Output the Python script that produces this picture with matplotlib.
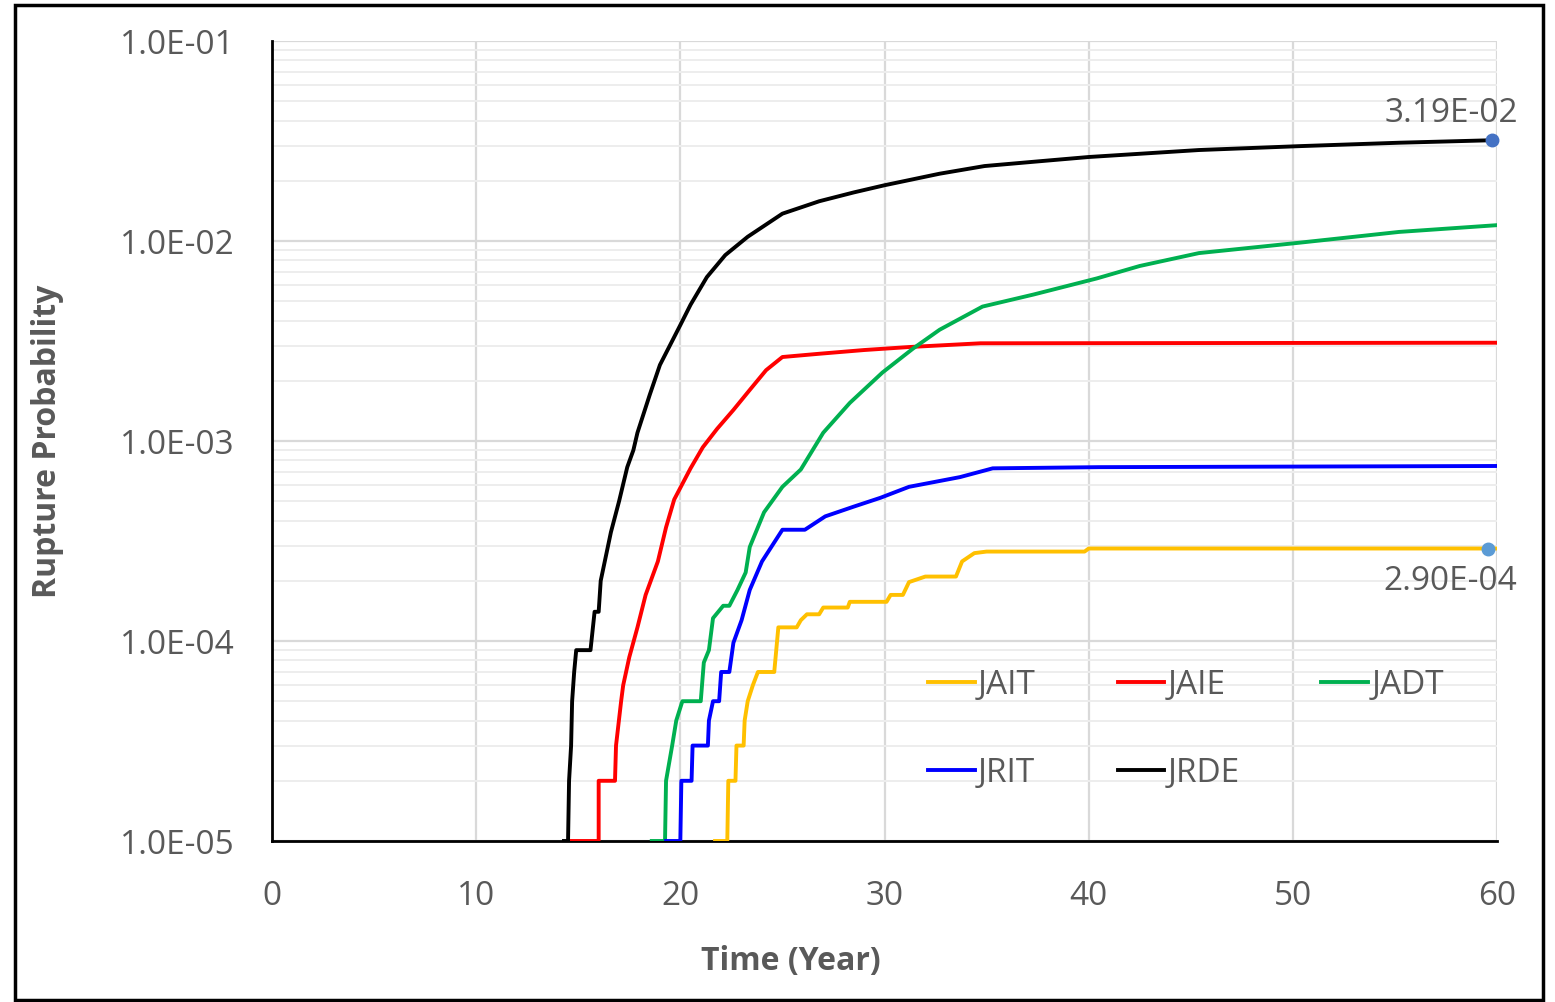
import matplotlib
matplotlib.use('Agg')
import matplotlib.pyplot as plt
from matplotlib.patches import Rectangle
from matplotlib.ticker import LogLocator, FixedLocator

plt.rcParams['font.family'] = ['Open Sans', 'DejaVu Sans']

# Rupture probability curves (time in years, probability)
jait_t = [21.7, 22.3, 22.35, 22.7, 22.75, 23.1, 23.15, 23.3, 23.55, 23.8, 24.6, 24.8, 25.7, 25.9,
          26.2, 26.8, 27.0, 28.2, 28.3, 30.1, 30.3, 30.9, 31.2, 32.0, 33.5, 33.8, 34.4, 35.0,
          39.8, 40.0, 60.0]
jait_p = [1e-5, 1e-5, 2e-5, 2e-5, 3e-5, 3e-5, 4e-5, 5e-5, 6e-5, 7e-5, 7e-5, 1.17e-4, 1.17e-4, 1.27e-4,
          1.36e-4, 1.36e-4, 1.47e-4, 1.47e-4, 1.57e-4, 1.57e-4, 1.7e-4, 1.7e-4, 1.97e-4, 2.1e-4, 2.1e-4,
          2.5e-4, 2.75e-4, 2.8e-4, 2.8e-4, 2.9e-4, 2.9e-4]

jaie_t = [14.6, 16.0, 16.0, 16.8, 16.85, 17.1, 17.2, 17.5, 17.9, 18.3, 18.9, 19.3, 19.7, 20.5,
          21.1, 21.8, 22.6, 23.4, 24.2, 25.0, 26.8, 29.0, 31.2, 34.7, 60.0]
jaie_p = [1e-5, 1e-5, 2e-5, 2e-5, 3e-5, 5e-5, 6e-5, 8.3e-5, 1.17e-4, 1.7e-4, 2.5e-4, 3.7e-4, 5.1e-4, 7.3e-4,
          9.3e-4, 1.15e-3, 1.43e-3, 1.8e-3, 2.26e-3, 2.63e-3, 2.73e-3, 2.85e-3, 2.95e-3, 3.08e-3, 3.1e-3]

jadt_t = [18.6, 19.25, 19.3, 19.6, 19.8, 20.1, 21.0, 21.15, 21.4, 21.6, 22.1, 22.4, 22.8, 23.2, 23.4,
          24.1, 25.0, 25.9, 27.0, 28.3, 29.9, 31.4, 32.7, 34.8, 37.3, 40.4, 42.5, 45.4, 50.3, 55.2, 60.0]
jadt_p = [1e-5, 1e-5, 2e-5, 3e-5, 4e-5, 5e-5, 5e-5, 7.8e-5, 9e-5, 1.3e-4, 1.5e-4, 1.5e-4, 1.8e-4, 2.2e-4, 2.95e-4,
          4.4e-4, 5.9e-4, 7.2e-4, 1.1e-3, 1.55e-3, 2.2e-3, 2.9e-3, 3.6e-3, 4.7e-3, 5.4e-3, 6.5e-3, 7.5e-3,
          8.7e-3, 9.8e-3, 1.11e-2, 1.2e-2]

jrit_t = [19.3, 20.0, 20.05, 20.55, 20.6, 21.35, 21.4, 21.6, 21.9, 22.0, 22.4, 22.6, 23.0, 23.4, 24.0,
          25.0, 26.1, 27.1, 28.5, 29.8, 31.2, 33.7, 35.3, 40.5, 60.0]
jrit_p = [1e-5, 1e-5, 2e-5, 2e-5, 3e-5, 3e-5, 4e-5, 5e-5, 5e-5, 7e-5, 7e-5, 9.8e-5, 1.27e-4, 1.8e-4, 2.5e-4,
          3.6e-4, 3.6e-4, 4.2e-4, 4.7e-4, 5.2e-4, 5.9e-4, 6.6e-4, 7.3e-4, 7.4e-4, 7.5e-4]

jrde_t = [14.3, 14.5, 14.55, 14.65, 14.7, 14.8, 14.9, 15.6, 15.8, 16.0, 16.1, 16.6, 17.0, 17.4, 17.7,
          17.9, 18.5, 19.0, 20.0, 20.5, 21.3, 22.2, 23.3, 25.0, 26.8, 28.5, 30.0, 32.7, 34.9, 37.5,
          40.0, 45.4, 50.3, 55.2, 59.75]
jrde_p = [1e-5, 1e-5, 2e-5, 3e-5, 5e-5, 7e-5, 9e-5, 9e-5, 1.4e-4, 1.4e-4, 2e-4, 3.5e-4, 5e-4, 7.4e-4, 9e-4,
          1.1e-3, 1.7e-3, 2.4e-3, 3.8e-3, 4.8e-3, 6.6e-3, 8.5e-3, 1.05e-2, 1.37e-2, 1.58e-2, 1.75e-2,
          1.9e-2, 2.17e-2, 2.37e-2, 2.5e-2, 2.63e-2, 2.85e-2, 2.98e-2, 3.1e-2, 3.19e-2]

# Labelled end points
label_t = [59.75, 59.55]
label_p = [3.19e-2, 2.90e-4]
label_txt = ['3.19E-02', '2.90E-04']

x_ticks = [0, 10, 20, 30, 40, 50, 60]
y_ticks = [1e-5, 1e-4, 1e-3, 1e-2, 1e-1]
y_tick_labels = ['1.0E-05', '1.0E-04', '1.0E-03', '1.0E-02', '1.0E-01']

grey = '#595959'
fs = 24

fig = plt.figure(figsize=(15.55, 10.02), dpi=100)
ax = fig.add_axes([272 / 1555, 1 - 841 / 1002, (1497 - 272) / 1555, (841 - 41) / 1002])

# outer frame
fig.patches.append(Rectangle((15 / 1555, 1 - 1000 / 1002), 1528 / 1555, 995 / 1002,
                             transform=fig.transFigure, fill=False, edgecolor='black', linewidth=2.5))

lw = 2.8
l_jait, = ax.plot(jait_t, jait_p, color='#FFC000', lw=lw, label='JAIT', zorder=3)
l_jaie, = ax.plot(jaie_t, jaie_p, color='#FF0000', lw=lw, label='JAIE', zorder=3)
l_jadt, = ax.plot(jadt_t, jadt_p, color='#00B050', lw=lw, label='JADT', zorder=3)
l_jrit, = ax.plot(jrit_t, jrit_p, color='#0000FF', lw=lw, label='JRIT', zorder=3)
l_jrde, = ax.plot(jrde_t, jrde_p, color='#000000', lw=lw, label='JRDE', zorder=3)

ax.plot(label_t[0], label_p[0], 'o', color='#4472C4', ms=9, zorder=4, clip_on=False)
ax.plot(label_t[1], label_p[1], 'o', color='#5B9BD5', ms=9, zorder=4, clip_on=False)
ax.annotate(label_txt[0], (label_t[0], label_p[0]), xytext=(-29, 19.5), textcoords='offset points',
            fontsize=fs, color=grey, ha='center', va='center', annotation_clip=False)
ax.annotate(label_txt[1], (label_t[1], label_p[1]), xytext=(-27, -24), textcoords='offset points',
            fontsize=fs, color=grey, ha='center', va='center', annotation_clip=False)

ax.set_yscale('log')
ax.set_xlim(0, 60)
ax.set_ylim(1e-5, 1e-1)
ax.xaxis.set_major_locator(FixedLocator(x_ticks))
ax.set_yticks(y_ticks)
ax.set_yticklabels(y_tick_labels)
ax.yaxis.set_minor_locator(LogLocator(base=10, subs=range(2, 10)))
ax.yaxis.set_minor_formatter(plt.NullFormatter())

ax.grid(True, which='major', color='#D9D9D9', lw=1.6, zorder=0)
ax.grid(True, which='minor', axis='y', color='#EDEDED', lw=1.4, zorder=0)
ax.set_axisbelow(True)

for s in ['top', 'right']:
    ax.spines[s].set_visible(False)
for s in ['left', 'bottom']:
    ax.spines[s].set_color('black')
    ax.spines[s].set_linewidth(2)
    ax.spines[s].set_zorder(2)

ax.tick_params(which='both', length=0)
ax.tick_params(axis='y', pad=27, labelsize=fs, labelcolor=grey)
ax.tick_params(axis='x', pad=28, labelsize=fs, labelcolor=grey)

ax.set_xlabel('Time (Year)', fontsize=23, fontweight='bold', color=grey)
ax.xaxis.set_label_coords((791 - 272) / 1225, (841 - 945) / 800)
ax.set_ylabel('Rupture Probability', fontsize=23, fontweight='bold', color=grey, labelpad=40)

ax.legend([l_jait, l_jrit, l_jaie, l_jrde, l_jadt], ['JAIT', 'JRIT', 'JAIE', 'JRDE', 'JADT'],
          ncol=3, frameon=False, fontsize=fs, labelcolor=grey, handlelength=1.4, handletextpad=0.1,
          columnspacing=2.45, labelspacing=1.65, borderpad=0, borderaxespad=0,
          loc='upper left', bbox_to_anchor=((928 - 272) / 1225, (841 - 669) / 800))

fig.savefig('out.png', dpi=100)
